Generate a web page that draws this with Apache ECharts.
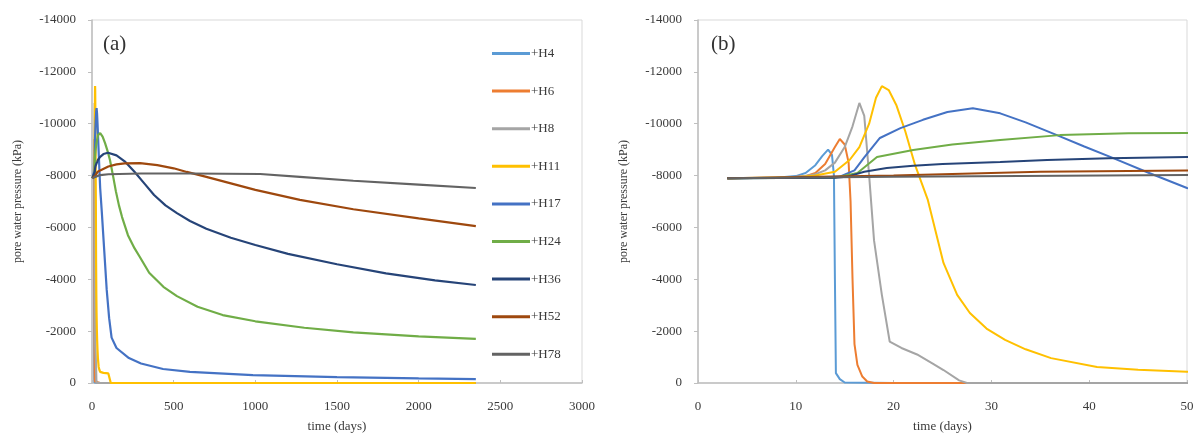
<!DOCTYPE html>
<html><head><meta charset="utf-8">
<script src="https://cdn.jsdelivr.net/npm/echarts@6/dist/echarts.min.js"></script>
<style>html,body{margin:0;padding:0;background:#fff}#c{width:1199px;height:437px}</style>
</head><body><div id="c"></div>
<script>
const seriesNames = ['+H4','+H6','+H8','+H11','+H17','+H24','+H36','+H52','+H78'];
const seriesColors = ['#5B9BD5','#ED7D31','#A5A5A5','#FFC000','#4472C4','#70AD47','#264478','#9E480E','#636363'];
const yTicks = [-14000,-12000,-10000,-8000,-6000,-4000,-2000,0];

const h4_t = [3, 8, 10, 11, 12, 12.7, 13.3, 13.7, 13.9, 14.0, 14.1, 14.5, 15, 20, 50, 100, 500, 1000, 2350];
const h4_p = [-7900, -7920, -7980, -8100, -8400, -8750, -9000, -8800, -8000, -4000, -380, -150, -20, 0, 0, 0, 0, 0, 0];

const h6_t = [3, 9, 11, 12, 13, 14, 14.5, 15, 15.4, 15.6, 15.8, 16.0, 16.3, 16.8, 17.3, 18, 50, 2350];
const h6_p = [-7900, -7920, -7980, -8100, -8450, -9100, -9410, -9200, -8500, -7000, -4000, -1500, -700, -250, -60, 0, 0, 0];

const h8_t = [3, 10, 12, 13, 14, 15, 15.8, 16.5, 17.0, 17.5, 18.0, 18.8, 19.6, 20.8, 22.4, 24, 25.1, 26.7, 27.5, 50, 2350];
const h8_p = [-7900, -7930, -8050, -8200, -8500, -9100, -9900, -10800, -10300, -8000, -5500, -3400, -1600, -1350, -1100, -750, -500, -100, 0, 0, 0];

const h11_t = [3, 10, 12, 14, 15.5, 16.5, 17.5, 18.2, 18.8, 19.5, 20.3, 21.2, 22.2, 23.5, 25.1, 26.5, 27.8, 29.5, 31.4, 33.5, 36.1, 40.8, 45, 50, 70, 100, 108, 115, 2350];
const h11_p = [-7900, -7940, -8000, -8150, -8600, -9100, -10000, -11000, -11450, -11300, -10700, -9700, -8400, -7060, -4630, -3400, -2700, -2100, -1660, -1300, -960, -620, -510, -430, -390, -370, -350, 0, 0];

const h17_t = [3, 12, 14.5, 16, 17, 18.6, 20.7, 23, 25.5, 28.1, 30.9, 33.5, 36.7, 39.5, 42.4, 46, 50, 60, 75, 90, 105, 120, 150, 226, 300, 435, 600, 985, 1500, 2000, 2350];
const h17_p = [-7900, -7920, -7960, -8200, -8700, -9450, -9830, -10150, -10450, -10600, -10400, -10050, -9560, -9120, -8680, -8120, -7520, -6600, -5100, -3600, -2500, -1750, -1350, -960, -750, -540, -430, -300, -230, -180, -150];

const h24_t = [3, 14, 16.3, 18.3, 22, 26, 30.9, 37, 44, 50, 65, 80, 95, 110, 130, 146, 165, 184, 220, 260, 292, 350, 437, 520, 646, 800, 1000, 1300, 1600, 2000, 2350];
const h24_p = [-7900, -7920, -8100, -8720, -8990, -9200, -9370, -9560, -9630, -9640, -9500, -9250, -8950, -8600, -7950, -7400, -6850, -6400, -5700, -5200, -4870, -4250, -3710, -3350, -2940, -2620, -2380, -2130, -1950, -1800, -1700];

const h36_t = [3, 14, 15.2, 17, 19.3, 22, 25, 30.9, 35.7, 42, 50, 70, 98, 150, 200, 260, 320, 380, 450, 520, 600, 700, 850, 1000, 1200, 1500, 1800, 2100, 2350];
const h36_p = [-7900, -7920, -7950, -8150, -8290, -8380, -8450, -8520, -8600, -8670, -8720, -8830, -8880, -8780, -8550, -8150, -7700, -7250, -6850, -6550, -6250, -5950, -5600, -5320, -4980, -4580, -4230, -3960, -3780];

const h52_t = [3, 20, 35, 50, 100, 150, 200, 294, 400, 500, 580, 700, 850, 1000, 1273, 1600, 2000, 2350];
const h52_p = [-7900, -8000, -8150, -8200, -8350, -8430, -8470, -8480, -8400, -8280, -8140, -7950, -7700, -7450, -7060, -6700, -6350, -6050];

const h78_t = [3, 20, 50, 100, 300, 600, 1030, 1273, 1600, 2000, 2350];
const h78_p = [-7900, -7950, -8020, -8050, -8080, -8080, -8060, -7950, -7800, -7650, -7520];

const allT = [h4_t, h6_t, h8_t, h11_t, h17_t, h24_t, h36_t, h52_t, h78_t];
const allP = [h4_p, h6_p, h8_p, h11_p, h17_p, h24_p, h36_p, h52_p, h78_p];

const FONT = 'Liberation Serif';
const txt = '#3a3a3a';

function pairs(i){ return allT[i].map((t,k)=>[t, allP[i][k]]); }

function xAxis(gi, max, interval){
  return {type:'value', gridIndex:gi, min:0, max:max, interval:interval,
    name:'time (days)', nameLocation:'middle', nameGap:37,
    nameTextStyle:{fontFamily:FONT, fontSize:13, color:txt},
    axisLine:{show:true, lineStyle:{color:'#bfbfbf', width:1.5}},
    axisTick:{show:true, inside:true, length:3, lineStyle:{color:'#bfbfbf'}},
    axisLabel:{fontFamily:FONT, fontSize:13, color:txt, margin:17, formatter:v=>String(v)},
    splitLine:{show:false}};
}
function yAxis(gi){
  return {type:'value', gridIndex:gi, min:yTicks[0], max:yTicks[yTicks.length-1], interval:2000, inverse:true,
    name:'pore water pressure (kPa)', nameLocation:'middle', nameGap:68, nameRotate:90,
    nameTextStyle:{fontFamily:FONT, fontSize:12, color:txt},
    axisLine:{show:true, onZero:false, lineStyle:{color:'#bfbfbf', width:1.5}},
    axisTick:{show:true, inside:false, length:4, lineStyle:{color:'#bfbfbf'}},
    axisLabel:{fontFamily:FONT, fontSize:13, color:txt, margin:16, formatter:v=>String(v)},
    splitLine:{show:false}};
}

const series = [];
[0,1].forEach(gi=>{
  seriesNames.forEach((n,i)=>{
    series.push({type:'line', name:n, xAxisIndex:gi, yAxisIndex:gi, data:pairs(i),
      showSymbol:false, symbol:'none', clip:true, animation:false,
      lineStyle:{color:seriesColors[i], width: gi===0 ? 2.2 : 2},
      itemStyle:{color:seriesColors[i]}});
  });
});

const chart = echarts.init(document.getElementById('c'), null, {renderer:'canvas'});
chart.setOption({
  animation:false,
  backgroundColor:'#fff',
  grid:[
    {left:92, right:617, top:20, bottom:54, show:true, borderColor:'#d9d9d9', borderWidth:1, containLabel:false, outerBoundsMode:'none'},
    {left:698, right:12, top:20, bottom:54, show:true, borderColor:'#d9d9d9', borderWidth:1, containLabel:false, outerBoundsMode:'none'}
  ],
  xAxis:[xAxis(0,3000,500), xAxis(1,50,10)],
  yAxis:[yAxis(0), yAxis(1)],
  legend:{show:true, orient:'vertical', left:487, top:42, itemWidth:38, itemHeight:3, itemGap:24.6,
    icon:'rect', data:seriesNames, selectedMode:false,
    textStyle:{fontFamily:FONT, fontSize:13, color:txt, padding:[0,0,0,-4]}},
  graphic:[
    {type:'text', left:103, top:34, style:{text:'(a)', fontFamily:FONT, fontSize:21, fill:'#333'}},
    {type:'text', left:711, top:34, style:{text:'(b)', fontFamily:FONT, fontSize:21, fill:'#333'}}
  ],
  series:series
});
</script></body></html>
